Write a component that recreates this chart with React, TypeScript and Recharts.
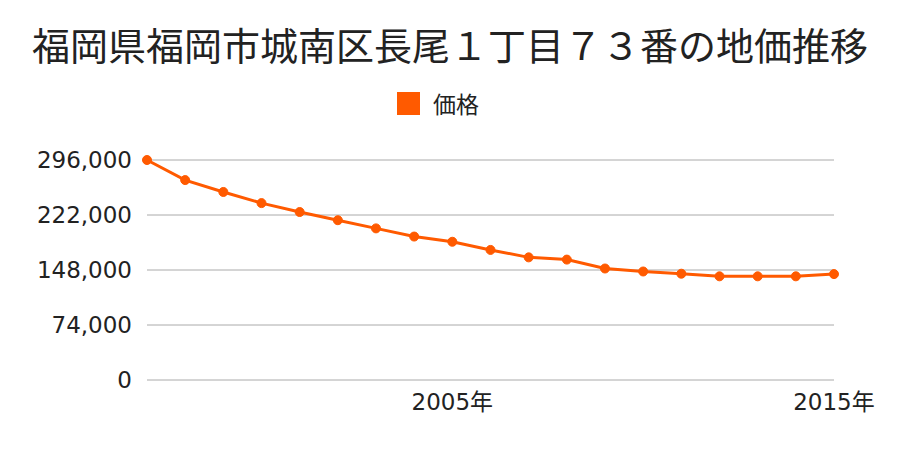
import React from 'react';
import { LineChart, Line, XAxis, YAxis, CartesianGrid } from 'recharts';

const years = [1997, 1998, 1999, 2000, 2001, 2002, 2003, 2004, 2005, 2006, 2007, 2008, 2009, 2010, 2011, 2012, 2013, 2014, 2015];
const prices = [296000, 269000, 253000, 238000, 226000, 215000, 204000, 193000, 186000, 175000, 165000, 162000, 150000, 146000, 143000, 139500, 139500, 139500, 142500];
const yTicks = [0, 74000, 148000, 222000, 296000];
const xTicks = [2005, 2015];
const title = '福岡県福岡市城南区長尾１丁目７３番の地価推移';
const seriesName = '価格';

const data = years.map((y, i) => ({ year: y, price: prices[i] }));

const FONT = '"Noto Sans CJK JP", "Noto Sans", sans-serif';
const TICK_FONT = '"DejaVu Sans", "Noto Sans CJK JP", sans-serif';
const COLOR = '#ff5a00';

export default function App() {
  return (
    <div style={{ position: 'absolute', left: 0, top: 0, width: 900, height: 450, background: '#fff' }}>
      <div style={{ position: 'absolute', left: 0, top: 18, width: 900, textAlign: 'center', fontFamily: FONT, fontSize: 38, color: '#222', lineHeight: '52px', whiteSpace: 'nowrap' }}>
        {title}
      </div>
      <div style={{ position: 'absolute', left: 397, top: 88, height: 30, display: 'flex', alignItems: 'center', fontFamily: FONT }}>
        <span style={{ display: 'inline-block', width: 23, height: 23, background: COLOR, marginRight: 13 }} />
        <span style={{ fontSize: 23, color: '#222' }}>{seriesName}</span>
      </div>
      <LineChart width={900} height={450} data={data} margin={{ top: 160, right: 66, bottom: 30, left: 0 }}>
        <CartesianGrid horizontal vertical={false} stroke="#aaa" strokeWidth={1} />
        <XAxis
          dataKey="year"
          type="number"
          domain={[1997, 2015]}
          ticks={xTicks}
          tickFormatter={(v) => `${v}年`}
          axisLine={false}
          tickLine={false}
          tickSize={0}
          tickMargin={14}
          height={40}
          tick={{ fill: '#222', fontSize: 23, fontFamily: TICK_FONT }}
        />
        <YAxis
          type="number"
          domain={[0, 296000]}
          ticks={yTicks}
          tickFormatter={(v) => v.toLocaleString('en-US')}
          axisLine={false}
          tickLine={false}
          tickSize={0}
          tickMargin={15}
          width={147}
          tick={{ fill: '#222', fontSize: 23, fontFamily: TICK_FONT }}
        />
        <Line
          dataKey="price"
          name={seriesName}
          stroke={COLOR}
          strokeWidth={3}
          dot={{ r: 4.5, fill: COLOR, stroke: COLOR, strokeWidth: 1 }}
          isAnimationActive={false}
        />
      </LineChart>
    </div>
  );
}
